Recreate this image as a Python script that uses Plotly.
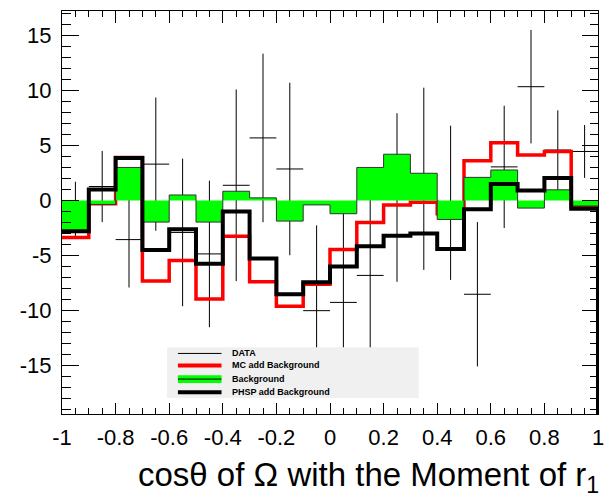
import numpy as np
import plotly.graph_objects as go

# ---- binning: 20 bins on [-1, 1] ----
bin_edges = list(np.round(np.linspace(-1.0, 1.0, 21), 2))
bin_centers = list(np.round(np.linspace(-0.95, 0.95, 20), 2))

# ---- measured data with errors ----
data_vals = [-0.8, 1.27, -3.55, 3.3, -2.9, -4.85, 1.38, 5.68, 2.86, -10.0,
             -9.25, -6.8, 0.27, 1.97, -0.21, -8.51, 3.05, 10.33, 4.58, 4.45]
data_errs = [2.5, 3.23, 4.35, 6.05, 6.7, 6.65, 8.7, 7.65, 7.83, 7.74,
             8.5, 8.0, 7.65, 8.27, 7.0, 6.55, 5.55, 5.15, 3.6, 2.4]

# ---- histograms ----
mc_add_bkg = [-3.35, -0.3, 3.9, -7.3, -5.45, -8.95, -3.25, -7.38, -9.6, -7.6,
              -4.45, -2.0, -0.4, -0.15, -1.2, 3.6, 5.25, 4.13, 4.45, -0.6]
background = [-2.9, -0.36, 3.0, -1.96, 0.5, -1.96, 0.84, 0.24, -1.87, -0.4,
              -1.2, 3.0, 4.2, 2.47, -1.72, 2.1, 2.77, -0.69, 0.97, -0.5]
phsp_add_bkg = [-2.8, 0.99, 3.85, -4.5, -2.62, -5.75, -1.0, -5.27, -8.5, -7.43,
                -6.0, -4.16, -3.2, -3.0, -4.4, -0.8, 1.5, 0.9, 2.05, -0.75]

# ---- axis ticks ----
x_tickvals = [-1, -0.8, -0.6, -0.4, -0.2, 0, 0.2, 0.4, 0.6, 0.8, 1]
x_ticktext = ["-1", "-0.8", "-0.6", "-0.4", "-0.2", "0", "0.2", "0.4", "0.6", "0.8", "1"]
y_tickvals = [-15, -10, -5, 0, 5, 10, 15]
y_ticktext = ["-15", "-10", "-5", "0", "5", "10", "15"]

legend_labels = ["DATA", "MC add Background", "Background", "PHSP add Background"]
x_title = "cos\u03b8 of \u03a9 with the Moment of r<sub>1</sub>"

Y_MIN, Y_MAX = -19.38, 17.2
FONT = "Liberation Sans, Arial, Helvetica, sans-serif"

# ---- figure geometry (pixels) ----
W, H = 614, 497
L, R, T, B = 62, 603, 10, 414


def px(x):
    return (x - L) / (R - L)


def py(y):
    return (B - y) / (B - T)


def step(vals, drop_right=False):
    xs = list(bin_edges)
    ys = list(vals) + [vals[-1]]
    if drop_right:
        xs.append(bin_edges[-1])
        ys.append(Y_MIN)
    return xs, ys


fig = go.Figure()

# data points with error crosses
fig.add_trace(go.Scatter(
    x=bin_centers, y=data_vals, mode="markers",
    marker=dict(size=0.1, color="black"),
    error_x=dict(type="constant", value=0.05, width=0, thickness=1, color="black"),
    error_y=dict(type="data", array=data_errs, width=0, thickness=1, color="black"),
    showlegend=False, hoverinfo="skip"))

# MC + background
xs, ys = step(mc_add_bkg, drop_right=True)
fig.add_trace(go.Scatter(x=xs, y=ys, mode="lines", line=dict(shape="hv", color="#ff0000", width=3.5),
                         showlegend=False))

# background (filled)
xs, ys = step(background)
fig.add_trace(go.Scatter(x=xs, y=ys, mode="lines", line=dict(shape="hv", color="#333333", width=1),
                         fill="tozeroy", fillcolor="#00ff00", showlegend=False))

# PHSP + background
xs, ys = step(phsp_add_bkg, drop_right=True)
fig.add_trace(go.Scatter(x=xs, y=ys, mode="lines", line=dict(shape="hv", color="black", width=4),
                         showlegend=False))

# ---- legend box ----
shapes = [dict(type="rect", xref="paper", yref="paper", x0=px(168), x1=px(422), y0=py(398), y1=py(347),
               fillcolor="#f0f0f0", line=dict(width=0), layer="above")]
lx0, lx1 = px(179), px(223)
rows = [353.3, 365.3, 379.0, 392.3]
shapes.append(dict(type="line", xref="paper", yref="paper", x0=lx0, x1=lx1, y0=py(rows[0]), y1=py(rows[0]),
                   line=dict(color="black", width=1), layer="above"))
shapes.append(dict(type="line", xref="paper", yref="paper", x0=lx0, x1=lx1, y0=py(rows[1]), y1=py(rows[1]),
                   line=dict(color="#ff0000", width=4), layer="above"))
shapes.append(dict(type="rect", xref="paper", yref="paper", x0=lx0, x1=lx1, y0=py(rows[2] + 3.8), y1=py(rows[2] - 3.8),
                   fillcolor="#00ff00", line=dict(width=0), layer="above"))
shapes.append(dict(type="line", xref="paper", yref="paper", x0=lx0, x1=lx1, y0=py(rows[2]), y1=py(rows[2]),
                   line=dict(color="black", width=1), layer="above"))
shapes.append(dict(type="line", xref="paper", yref="paper", x0=lx0, x1=lx1, y0=py(rows[3]), y1=py(rows[3]),
                   line=dict(color="black", width=4), layer="above"))

annotations = []
for label, ry in zip(legend_labels, rows):
    annotations.append(dict(text=label, xref="paper", yref="paper", x=px(232), y=py(ry),
                            xanchor="left", yanchor="middle", showarrow=False,
                            font=dict(family=FONT, size=9, color="black", weight="bold")))

annotations.append(dict(text=x_title, xref="paper", yref="paper", x=px(606), y=py(477),
                        xanchor="right", yanchor="middle", showarrow=False,
                        font=dict(family=FONT, size=33, color="black")))

axis_common = dict(showgrid=False, zeroline=False, showline=True, linecolor="black", linewidth=1,
                   mirror="ticks", ticks="inside", tickcolor="black", tickwidth=1,
                   tickfont=dict(family=FONT, size=22, color="black"))

fig.update_layout(
    width=W, height=H,
    margin=dict(l=L, r=W - R, t=T, b=H - B),
    paper_bgcolor="white", plot_bgcolor="white",
    showlegend=False,
    shapes=shapes, annotations=annotations,
    xaxis=dict(range=[-1, 1], tickvals=x_tickvals, ticktext=x_ticktext, ticklen=11.5,
               ticklabelstandoff=4,
               minor=dict(dtick=0.05, tick0=-1, ticks="inside", ticklen=6, tickcolor="black", tickwidth=1),
               **axis_common),
    yaxis=dict(range=[Y_MIN, Y_MAX], tickvals=y_tickvals, ticktext=y_ticktext, ticklen=16.5,
               ticklabelstandoff=5,
               minor=dict(dtick=1, tick0=0, ticks="inside", ticklen=8.5, tickcolor="black", tickwidth=1),
               **axis_common),
)

fig.write_html("out.html")
